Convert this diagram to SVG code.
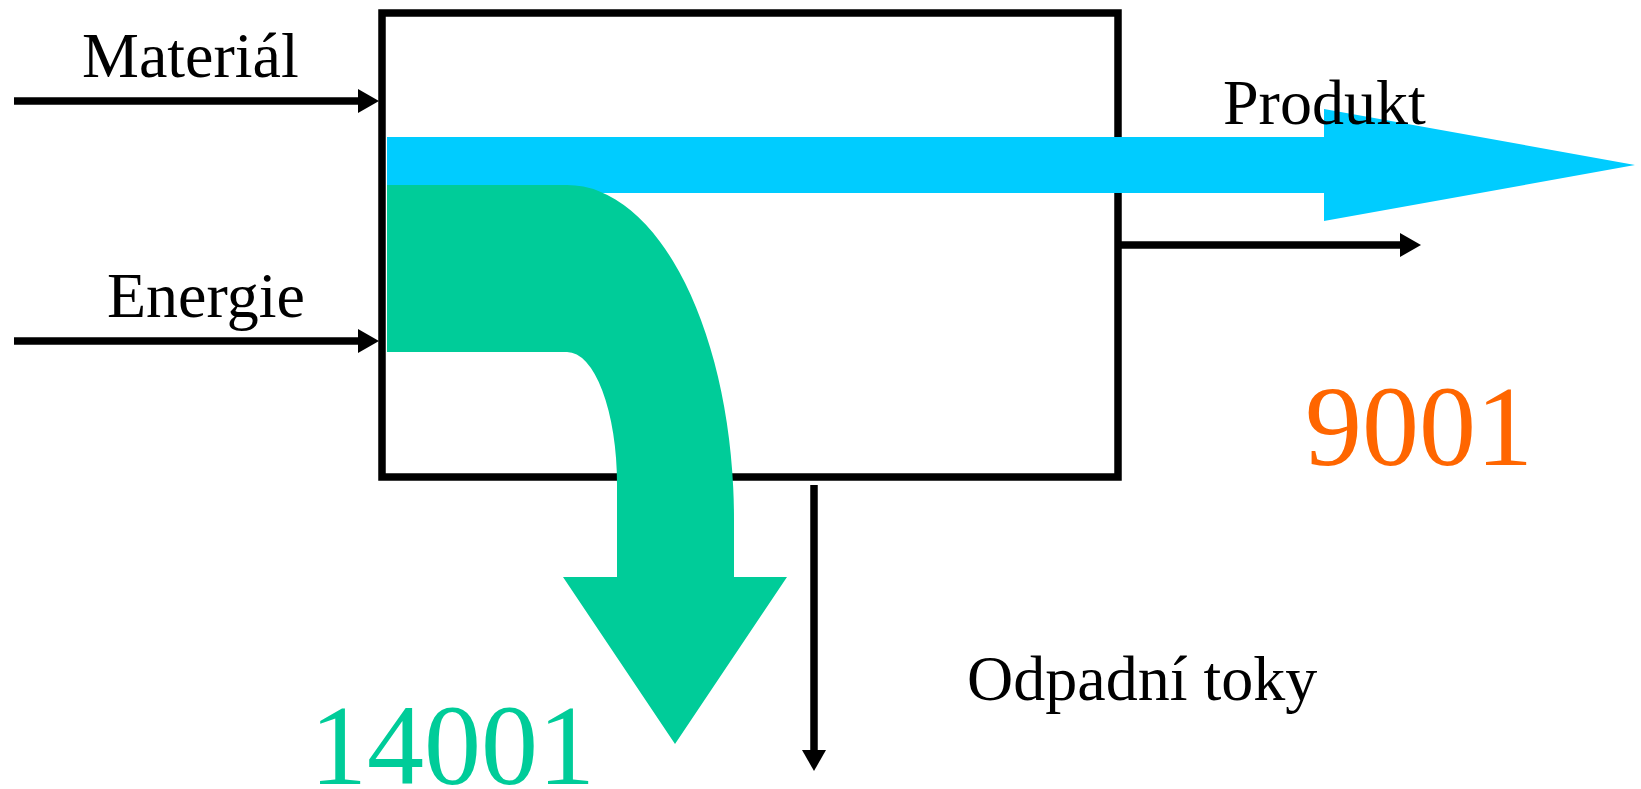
<svg xmlns="http://www.w3.org/2000/svg" width="1641" height="789" viewBox="0 0 1641 789">
  <style>
    .lbl { font-family: "Liberation Serif", "Times New Roman", serif; font-size: 64px; fill: #000; }
    .num { font-family: "Liberation Serif", "Times New Roman", serif; font-size: 114px; }
    .flow { fill: none; stroke: #000; stroke-width: 7.5; }
  </style>
  <defs>
    <marker id="head" viewBox="0 0 21 24" markerWidth="21" markerHeight="24" refX="2" refY="12" markerUnits="userSpaceOnUse" orient="auto">
      <path d="M0,0 L21,12 L0,24 Z" fill="#000"/>
    </marker>
  </defs>

  <!-- process box -->
  <g id="process">
    <rect x="382" y="13" width="736" height="464" fill="#fff" stroke="#000" stroke-width="7.5"/>
  </g>

  <!-- thin input / output flows -->
  <g id="connectors">
    <path class="flow" d="M14,101 H360" marker-end="url(#head)"/>
    <path class="flow" d="M14,341 H360" marker-end="url(#head)"/>
    <path class="flow" d="M1118,245 H1402" marker-end="url(#head)"/>
    <path class="flow" d="M814,485 V752" marker-end="url(#head)"/>
  </g>

  <!-- product stream (ISO 9001) -->
  <g id="product-stream">
    <path d="M387,137 H1324 V109 L1635,165 L1324,221 V193 H387 Z" fill="#00CCFF"/>
  </g>

  <!-- waste stream (ISO 14001) -->
  <g id="waste-stream">
    <path d="M387,185 H567 A167,335 0 0 1 734,520 V577 H787 L675,744 L563,577 H617 V484 A50,132 0 0 0 567,352 H387 Z" fill="#00CC99"/>
  </g>

  <g id="labels">
    <text class="lbl" x="82" y="77">Materiál</text>
    <text class="lbl" x="107" y="317">Energie</text>
    <text class="lbl" x="1223" y="124">Produkt</text>
    <text class="lbl" x="967" y="700">Odpadní toky</text>
    <text class="num" x="1305" y="465" fill="#FF6600">9001</text>
    <text class="num" x="310" y="784" fill="#00CC99">14001</text>
  </g>
</svg>
